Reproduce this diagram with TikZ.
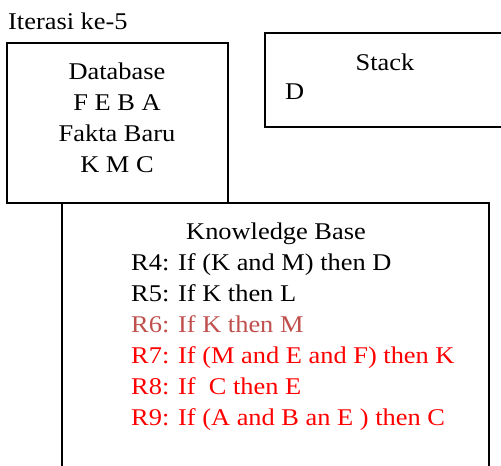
\documentclass[tikz,border=0pt]{standalone}
\usepackage{fontspec}
\setmainfont{Liberation Serif}[FakeStretch=1.1]
\definecolor{fadedred}{RGB}{192,80,77}
\begin{document}
\begin{tikzpicture}[x=1pt,y=-1pt,
  boxstyle/.style={draw=black,line width=2pt},
  txt/.style={inner sep=0pt,font=\fontsize{24}{24}\selectfont},
  ctxt/.style={txt,anchor=base},
  ltxt/.style={txt,anchor=base west}]
\useasboundingbox (0,0) rectangle (501,466);
\clip (0,0) rectangle (501,466);
\fill[white] (0,0) rectangle (501,466);
% boxes
\draw[boxstyle] (7,43) rectangle (228,203);
\draw[boxstyle] (265,33) rectangle (520,127);
\draw[boxstyle] (62,203) rectangle (489,490);
% title
\node[ltxt] (title) at (8,29) {Iterasi ke-5};
% database
\node[ctxt] (db1) at (117,79) {Database};
\node[ctxt] (db2) at (117,110) {F E B A};
\node[ctxt] (db3) at (117,141) {Fakta Baru};
\node[ctxt] (db4) at (117,172) {K M C};
% stack
\node[ctxt] (st1) at (385,70) {Stack};
\node[ltxt] (st2) at (285,99) {D};
% knowledge base
\node[ctxt] (kb) at (276,239) {Knowledge Base};
\node[ltxt] (r4) at (131,270) {R4: If (K and M) then D};
\node[ltxt] (r5) at (131,301) {R5: If K then L};
\node[ltxt,text=fadedred] (r6) at (131,332) {R6: If K then M};
\node[ltxt,text=red] (r7) at (131,363) {R7: If (M and E and F) then K};
\node[ltxt,text=red] (r8) at (131,394) {R8: If\ \ C then E};
\node[ltxt,text=red] (r9) at (131,425) {R9: If (A and B an E ) then C};
\end{tikzpicture}
\end{document}
